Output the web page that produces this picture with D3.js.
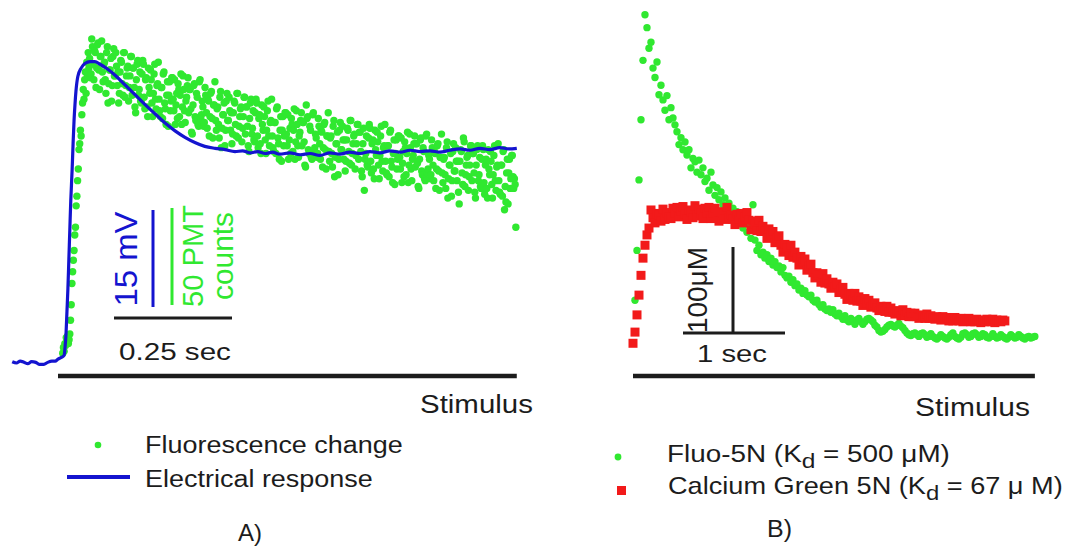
<!DOCTYPE html>
<html><head><meta charset="utf-8">
<script src="https://cdn.jsdelivr.net/npm/d3@7"></script>
<style>body{margin:0;background:#fff}svg{display:block}text{font-family:"Liberation Sans",Arial,sans-serif}</style>
</head><body><svg id="c" width="1070" height="550"></svg>
<script>
// ---------- DATA ----------
// Panel A: electrical response (time in ms, mV)
const elecTimeMs = [-97,-88,-80,-72,-64,-56,-47,-40,-30,-22,-13,-6,0,8,13,15,17,19,21,23,25,27,30,32,34,36,38,42,49,57,68,78,89,104,121,142,163,184,206,227,248,269,290,311,333,354,375,391,407,423,439,455,470,491,513,534,555,576,597,618,640,661,682,703,725,746,767,788,809,830,852,873,894,915,936,955,972];
const elecMV = [0.2,0.0,0.3,0.1,-0.1,0.2,0.1,-0.2,-0.2,0.1,0.3,0.3,0.6,0.9,1.2,2.5,4.5,8,11.5,16,20.5,25,30,34,37.5,40,42,44.3,45.6,46.3,46.6,46.6,46.2,45.5,44.5,43.0,41.5,40.0,38.5,37.1,35.9,34.9,34.1,33.5,33.2,33.0,32.7,32.8,32.5,32.7,32.4,32.6,32.3,32.5,32.2,32.4,32.1,32.5,32.3,32.6,32.4,32.7,32.5,32.8,32.6,32.9,32.7,32.8,32.6,32.9,33.1,32.9,33.2,33.0,33.3,33.1,33.2];
// Panel A: fluorescence change (PMT counts), sampled every 1.5 ms from 10 ms
const fluorAStart = 10, fluorAStep = 1.5;
const fluorA = [5,8,6,10,9,13,11,14,10,12,15,
22,30,41,47,53,58,66,70,81,86,94,100,110,113,120,117,128,134,141,136,146,150,139,155,148,160,152,
157,147,149,167,163,154,146,161,160,142,152,164,165,151,141,158,158,166,150,145,
154,155,146,139,160,163,134,144,151,151,157,135,143,158,162,148,148,160,153,143,
150,134,139,150,156,155,144,138,160,160,137,143,148,152,153,135,142,148,158,158,
138,152,152,142,132,129,146,154,156,138,141,150,135,134,149,156,154,137,131,146,
147,132,127,152,142,139,151,146,134,127,139,149,154,136,131,143,144,155,136,130,
127,142,142,126,149,150,134,131,123,138,145,122,138,145,130,135,147,147,136,130,
146,123,133,139,126,144,141,127,138,149,123,132,148,141,130,124,135,137,143,147,
129,141,141,131,119,118,133,143,144,127,125,139,137,123,122,145,146,126,128,135,
132,122,124,142,138,129,121,136,135,117,127,139,140,126,116,133,133,145,125,120,
131,132,123,116,137,140,111,121,128,128,134,112,120,135,139,125,125,137,130,120,
129,113,118,129,135,134,123,117,139,139,116,122,127,131,132,114,121,127,137,137,
118,132,132,122,112,109,126,134,136,118,121,130,115,114,129,136,134,117,111,126,
128,113,108,133,123,120,132,127,115,108,120,130,135,117,112,124,125,136,117,111,
109,124,124,108,131,132,116,113,105,120,127,104,120,127,112,117,129,129,118,112,
128,105,115,121,108,126,123,109,120,131,105,114,130,123,112,106,117,119,125,129,
112,124,124,114,102,101,133,126,127,110,108,122,120,106,105,128,129,109,111,118,
116,106,108,126,122,113,105,120,119,101,111,123,124,110,100,117,117,129,109,104,
116,117,108,101,122,125,96,106,113,113,119,97,105,120,124,110,110,122,115,105,
115,99,104,115,121,120,109,103,125,125,102,108,113,117,118,100,107,113,123,123,
105,119,119,109,99,96,113,121,89,105,108,117,102,101,116,123,121,104,98,113,
115,100,95,120,110,107,119,114,102,95,107,117,122,104,99,111,112,123,104,98,
97,112,112,96,119,120,104,101,93,108,115,92,108,115,100,105,117,117,106,100,
116,93,103,109,96,114,111,97,108,119,93,102,118,111,100,94,105,107,113,117,
101,113,113,103,91,90,105,115,116,99,97,111,109,95,94,117,118,98,100,107,
105,95,97,115,111,102,94,109,108,90,100,112,113,99,89,106,106,118,98,93,
105,106,97,90,111,114,85,95,102,102,108,86,94,109,113,99,99,111,104,94,
104,88,82,104,110,109,98,92,116,114,91,97,102,106,107,89,96,102,112,112,
94,108,108,98,88,85,102,110,112,94,97,106,91,90,105,112,110,93,87,102,
105,90,85,110,100,97,109,104,92,85,97,107,112,94,89,101,102,113,94,88,
87,102,102,86,109,110,79,91,83,98,105,82,98,105,90,95,107,107,96,90,
95,92,70];
const stimA = [0, 972];           // ms
const scaleA = {time: 250, mV: 15, counts: 50};
const legendA = ["Fluorescence change", "Electrical response"];

// Panel B: Ca concentration (µM), sampled every 0.0196 s
const stepB = 0.0196;
const fluo5N = [2,52,110,192,262,331,384,369,345,352,
322,311,329,291,302,285,273,290,262,276,
264,256,248,233,241,227,236,221,227,206,
217,213,201,215,198,206,190,194,180,201,
186,174,183,169,178,163,171,157,165,152,
159,145,155,143,150,136,148,131,140,124,
163,122,110,116,105,108,101,105,97,101,
93,97,90,92,85,90,81,78,80,73,
76,69,71,64,66,60,63,58,56,58,
52,50,52,47,44,47,42,40,42,38,
41,36,34,37,33,30,34,29,27,31,
28,24,29,31,27,24,27,30,31,29,
27,23,21,17,15,16,18,21,23,24,
22,21,23,25,22,20,17,14,12,11,
13,14,12,10,13,14,12,9,10,13,
10,8,7,9,12,10,8,7,9,12,
14,10,8,7,9,13,14,12,9,10,
13,14,12,9,10,13,12,9,8,10,
13,10,8,9,12,10,8,7,9,12,
10,8,9,12,10,8,7,9,10,8,
9,10];
const calGreen5N = [2,15,35,58,81,101,116,128,136,
157,148,142,153,151,144,158,146,154,149,
147,159,154,160,149,156,161,152,146,157,
155,148,162,150,158,153,147,159,154,160,
147,154,159,150,144,155,153,146,160,148,
151,146,140,152,147,153,142,149,154,145,
134,144,141,133,145,132,138,132,124,135,
128,132,119,124,127,116,108,117,113,104,
116,102,108,101,93,103,96,100,87,92,
94,84,78,84,81,73,83,72,77,71,
66,73,68,71,61,65,67,59,53,60,
58,52,60,51,56,51,46,54,49,52,
44,47,49,43,40,45,43,39,45,38,
43,38,36,40,38,34,41,35,38,33,
37,33,37,33,31,35,33,31,36,31,
34,31,30,33,31,29,33,30,32,28,
31,28,32,30,28,31,27,30,28,31,
27,29,27,30,28,26,29,27,30,28,
27,30,26,29,28,27,29,28];
const stimB = [0, 3.94];          // s
const scaleB = {time: 1, conc: 100};
const legendB = [["Fluo-5N (K", "d", " = 500 \u03bcM)"], ["Calcium Green 5N (K", "d", " = 67 \u03bc M)"]];

// ---------- DRAW ----------
const svg = d3.select('#c');
const BLUE = '#1414cf', GREEN = '#30e830', RED = '#f21a1a', INK = '#1c1c1c';

function label(parent, parts, x, y, size, width, color, rotate) {
  const g = parent.append('g').attr('transform', `translate(${x},${y})` + (rotate ? ' rotate(-90)' : ''));
  const t = g.append('text').attr('font-size', size).attr('fill', color || INK)
    .attr('text-anchor', rotate ? 'middle' : 'start');
  if (typeof parts === 'string') t.text(parts);
  else {
    t.append('tspan').text(parts[0]);
    t.append('tspan').attr('dy', 6).attr('font-size', size * 0.88).text(parts[1]);
    t.append('tspan').attr('dy', -6).text(parts[2]);
  }
  if (width) {
    const w = t.node().getComputedTextLength();
    t.attr('transform', `scale(${width / w},1)`);
  }
  return g;
}

// ----- Panel A -----
const xA = d3.scaleLinear().domain([0, 1000]).range([58, 530]);
const yMV = d3.scaleLinear().domain([0, 15]).range([363, 266]);
const yCnt = d3.scaleLinear().domain([0, 50]).range([363, 266]);
const gA = svg.append('g');

gA.selectAll('circle.fa').data(fluorA).join('circle').attr('class', 'fa')
  .attr('cx', (d, i) => xA(fluorAStart + i * fluorAStep)).attr('cy', d => yCnt(d))
  .attr('r', 3.7).attr('fill', GREEN);

gA.append('path').datum(d3.zip(elecTimeMs, elecMV))
  .attr('d', d3.line().curve(d3.curveMonotoneX).x(d => xA(d[0])).y(d => yMV(d[1])))
  .attr('fill', 'none').attr('stroke', BLUE).attr('stroke-width', 3.2).attr('stroke-linejoin', 'round');

gA.append('line').attr('x1', xA(stimA[0])).attr('x2', xA(stimA[1])).attr('y1', 376).attr('y2', 376)
  .attr('stroke', INK).attr('stroke-width', 4.5);

// scale bars A
const sbAx = 114, sbAy = 318;
gA.append('line').attr('x1', sbAx).attr('x2', sbAx + xA(scaleA.time) - xA(0)).attr('y1', sbAy).attr('y2', sbAy)
  .attr('stroke', INK).attr('stroke-width', 3);
gA.append('line').attr('x1', 153).attr('x2', 153).attr('y1', 307).attr('y2', 307 - (yMV(0) - yMV(scaleA.mV)))
  .attr('stroke', BLUE).attr('stroke-width', 3);
gA.append('line').attr('x1', 172).attr('x2', 172).attr('y1', 305).attr('y2', 305 - (yCnt(0) - yCnt(scaleA.counts)))
  .attr('stroke', GREEN).attr('stroke-width', 3);
label(gA, scaleA.mV + ' mV', 137, 259, 32, 95, BLUE, true);
label(gA, scaleA.counts + ' PMT', 203, 256, 29, 102, GREEN, true);
label(gA, 'counts', 233, 256, 29, 88, GREEN, true);
label(gA, '0.25 sec', 119, 360, 24, 112);
label(gA, 'Stimulus', 420, 413, 25, 113);

// legend A
gA.append('circle').attr('cx', 98).attr('cy', 445).attr('r', 3.3).attr('fill', GREEN);
gA.append('line').attr('x1', 67).attr('x2', 130).attr('y1', 477).attr('y2', 477).attr('stroke', BLUE).attr('stroke-width', 4);
label(gA, legendA[0], 145, 453, 24, 258);
label(gA, legendA[1], 145, 487, 24, 228);
label(gA, 'A)', 238, 541, 24, 24);

// ----- Panel B -----
const xB = d3.scaleLinear().domain([0, 1]).range([633, 735]);
const yB = d3.scaleLinear().domain([0, 100]).range([345, 259]);
const gB = svg.append('g');

gB.selectAll('circle.fb').data(fluo5N).join('circle').attr('class', 'fb')
  .attr('cx', (d, i) => xB(i * stepB)).attr('cy', d => yB(d)).attr('r', 3.7).attr('fill', GREEN);
gB.selectAll('rect.cg').data(calGreen5N).join('rect').attr('class', 'cg')
  .attr('x', (d, i) => xB(i * stepB) - 4.5).attr('y', d => yB(d) - 4.5)
  .attr('width', 9).attr('height', 9).attr('fill', RED);

gB.append('line').attr('x1', xB(stimB[0])).attr('x2', xB(stimB[1])).attr('y1', 376).attr('y2', 376)
  .attr('stroke', INK).attr('stroke-width', 4.5);

// scale bars B
gB.append('line').attr('x1', 683).attr('x2', 683 + xB(scaleB.time) - xB(0)).attr('y1', 333).attr('y2', 333)
  .attr('stroke', INK).attr('stroke-width', 3);
gB.append('line').attr('x1', 733).attr('x2', 733).attr('y1', 333).attr('y2', 333 - (yB(0) - yB(scaleB.conc)))
  .attr('stroke', INK).attr('stroke-width', 3);
label(gB, scaleB.conc + '\u03bcM', 707, 290, 28, 86, INK, true);
label(gB, scaleB.time + ' sec', 697, 362, 24, 70);
label(gB, 'Stimulus', 915, 416, 25, 115);

// legend B
gB.append('circle').attr('cx', 618).attr('cy', 457).attr('r', 3.4).attr('fill', GREEN);
gB.append('rect').attr('x', 617).attr('y', 486).attr('width', 9).attr('height', 9).attr('fill', RED);
label(gB, legendB[0], 667, 462, 24, 283);
label(gB, legendB[1], 668, 494, 24, 395);
label(gB, 'B)', 767, 537, 24, 25);
</script></body></html>
